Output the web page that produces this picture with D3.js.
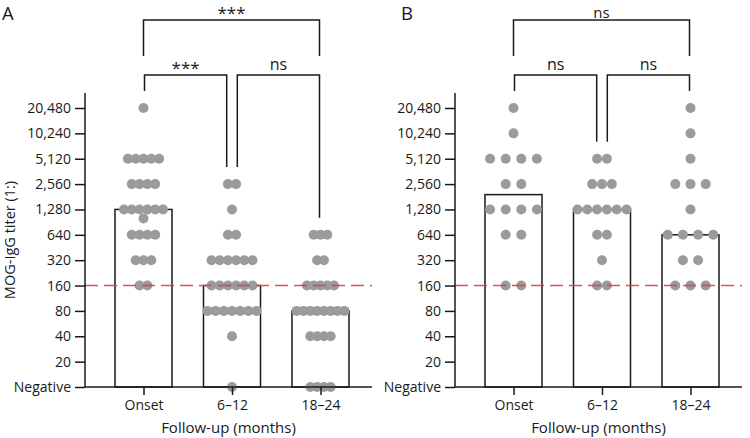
<!DOCTYPE html>
<html>
<head>
<meta charset="utf-8">
<script src="https://cdn.jsdelivr.net/npm/d3@7"></script>
<style>
  html, body { margin: 0; padding: 0; background: #fff; }
  svg { display: block; font-family: "Open Sans", "Noto Sans", sans-serif; }
</style>
</head>
<body>
<svg id="chart" width="750" height="438"></svg>
<script>
// ---------------- DATA ----------------
const categories = ["Onset", "6\u201312", "18\u201324"];
const tickValues = [10, 20, 40, 80, 160, 320, 640, 1280, 2560, 5120, 10240, 20480];
const tickLabels = ["Negative", "20", "40", "80", "160", "320", "640", "1,280", "2,560", "5,120", "10,240", "20,480"];
const cutoff = 160;

// Panel A titers (10 = Negative)
const aOnset = [20480, 5120, 5120, 5120, 5120, 5120, 2560, 2560, 2560, 2560,
  1280, 1280, 1280, 1280, 1280, 1280, 1000, 640, 640, 640, 640, 320, 320, 320, 160, 160];
const a6to12 = [2560, 2560, 1280, 640, 640, 320, 320, 320, 320, 320, 320,
  160, 160, 160, 160, 160, 160, 80, 80, 80, 80, 80, 80, 80, 40, 10];
const a18to24 = [640, 640, 640, 320, 320, 160, 160, 160, 160, 160,
  80, 80, 80, 80, 80, 80, 80, 80, 40, 40, 40, 40, 10, 10, 10, 10];
const aMedians = [1280, 160, 80];
const aLabels = ["***", "ns", "***"]; // Onset vs 6-12, 6-12 vs 18-24, Onset vs 18-24

// Panel B titers
const bOnset = [20480, 10240, 5120, 5120, 5120, 5120, 2560, 2560,
  1280, 1280, 1280, 1280, 640, 640, 160, 160];
const b6to12 = [5120, 5120, 2560, 2560, 2560, 1280, 1280, 1280, 1280, 1280, 1280,
  640, 640, 320, 160, 160];
const b18to24 = [20480, 10240, 5120, 2560, 2560, 2560, 1280, 640, 640, 640, 640,
  320, 320, 160, 160, 160];
const bMedians = [1920, 1280, 640];
const bLabels = ["ns", "ns", "ns"];

// ---------------- LAYOUT / STYLE ----------------
const W = 750, H = 438;
const axisLen = 287;
const yBottom = 387, yTopVal = 108;
const barW = 57;
const dotR = 5;
const dotColor = "#9b9b9b";
const ink = "#1a1a1a";

const panels = [
  { letter: "A", axisX: 85, groups: [aOnset, a6to12, a18to24], medians: aMedians, labels: aLabels, spacing: [7.8, 8.2, 6.8] },
  { letter: "B", axisX: 455, groups: [bOnset, b6to12, b18to24], medians: bMedians, labels: bLabels, spacing: [15.6, 9.8, 15.2] }
];

const svg = d3.select("#chart");

const y = d3.scaleLog().base(2).domain([10, 20480]).range([yBottom, yTopVal]);

panels.forEach(p => {
  const g = svg.append("g");
  const x = d3.scalePoint().domain(categories).range([p.axisX + 58.5, p.axisX + 235.5]);

  // Panel letter
  g.append("text").attr("x", p.letter === "A" ? 2 : 401).attr("y", 20)
    .attr("font-size", 18.5).attr("fill", ink).text(p.letter);

  // Bars
  g.selectAll("rect.bar").data(p.medians).join("rect")
    .attr("class", "bar")
    .attr("x", (d, i) => x(categories[i]) - barW / 2)
    .attr("y", d => y(d))
    .attr("width", barW)
    .attr("height", d => yBottom - y(d))
    .attr("fill", "#fff").attr("stroke", ink).attr("stroke-width", 1.5);

  // Dots (rows by value, centred around category)
  p.groups.forEach((vals, gi) => {
    const rows = d3.group(vals, v => v);
    const pts = [];
    rows.forEach((arr, v) => {
      const n = arr.length;
      arr.forEach((_, k) => pts.push({ v, off: (k - (n - 1) / 2) * p.spacing[gi] }));
    });
    g.selectAll(null).data(pts).join("circle")
      .attr("cx", d => x(categories[gi]) + d.off)
      .attr("cy", d => y(d.v))
      .attr("r", dotR)
      .attr("fill", dotColor);
  });

  // Cutoff dashed line
  g.append("line")
    .attr("x1", p.axisX).attr("x2", p.axisX + axisLen)
    .attr("y1", y(cutoff)).attr("y2", y(cutoff))
    .attr("stroke", "#df3f42").attr("stroke-opacity", 0.9)
    .attr("stroke-width", 1.4).attr("stroke-dasharray", "13,6");

  // Y axis
  const yAxis = d3.axisLeft(y).tickValues(tickValues)
    .tickFormat((d, i) => tickLabels[i]).tickSize(10).tickPadding(4);
  const ya = g.append("g").attr("transform", `translate(${p.axisX},0)`).call(yAxis);
  ya.select(".domain").remove();
  ya.selectAll(".tick line").attr("stroke", ink).attr("stroke-width", 1.5);
  ya.selectAll(".tick text").attr("font-size", 14).attr("fill", ink)
    .attr("font-family", "'Open Sans', sans-serif");
  g.append("line").attr("x1", p.axisX).attr("x2", p.axisX)
    .attr("y1", yTopVal - 15).attr("y2", yBottom)
    .attr("stroke", ink).attr("stroke-width", 1.5);

  // X axis
  const xAxis = d3.axisBottom(x).tickSize(8).tickPadding(5);
  const xa = g.append("g").attr("transform", `translate(0,${yBottom})`).call(xAxis);
  xa.select(".domain").remove();
  xa.selectAll(".tick line").attr("stroke", ink).attr("stroke-width", 1.5);
  xa.selectAll(".tick text").attr("font-size", 14).attr("fill", ink)
    .attr("font-family", "'Open Sans', sans-serif");
  g.append("line").attr("x1", p.axisX).attr("x2", p.axisX + axisLen)
    .attr("y1", yBottom).attr("y2", yBottom)
    .attr("stroke", ink).attr("stroke-width", 1.5);

  // X title
  g.append("text").attr("x", p.axisX + axisLen / 2).attr("y", 433)
    .attr("text-anchor", "middle").attr("font-size", 15).attr("fill", ink)
    .text("Follow-up (months)");

  // Brackets
  const c = categories.map(k => x(k));
  const maxY = p.groups.map(vals => y(d3.max(vals)) - 17);
  const gap = 5.3;
  const lowY = 75, topY = 20, topDrop = 56;
  const br = [
    { x1: c[0] + 1, x2: c[1] - gap, ya: maxY[0], yb: maxY[1], h: lowY, top: false, label: p.labels[0] },
    { x1: c[1] + gap, x2: c[2] - 1, ya: maxY[1], yb: maxY[2], h: lowY, top: false, label: p.labels[1] },
    { x1: c[0], x2: c[2] - 1, ya: topDrop, yb: topDrop, h: topY, top: true, label: p.labels[2] }
  ];
  br.forEach(b => {
    g.append("path")
      .attr("d", `M${b.x1},${b.ya}V${b.h}H${b.x2}V${b.yb}`)
      .attr("fill", "none").attr("stroke", ink).attr("stroke-width", 1.5);
    const isStar = b.label === "***";
    let ty;
    if (b.top) ty = isStar ? 19 : 17.5;
    else ty = isStar ? b.h - 1 : b.h - 5;
    g.append("text").attr("x", (b.x1 + b.x2) / 2)
      .attr("y", ty)
      .attr("text-anchor", "middle")
      .attr("font-size", isStar ? 17 : (b.top ? 15 : 16)).attr("fill", ink)
      .text(b.label);
  });
});

// Y title
svg.append("text")
  .attr("transform", `translate(15,${(yBottom + yTopVal - 15) / 2}) rotate(-90)`)
  .attr("text-anchor", "middle").attr("font-size", 14.5).attr("fill", ink)
  .text("MOG-IgG titer (1:)");
</script>
</body>
</html>
